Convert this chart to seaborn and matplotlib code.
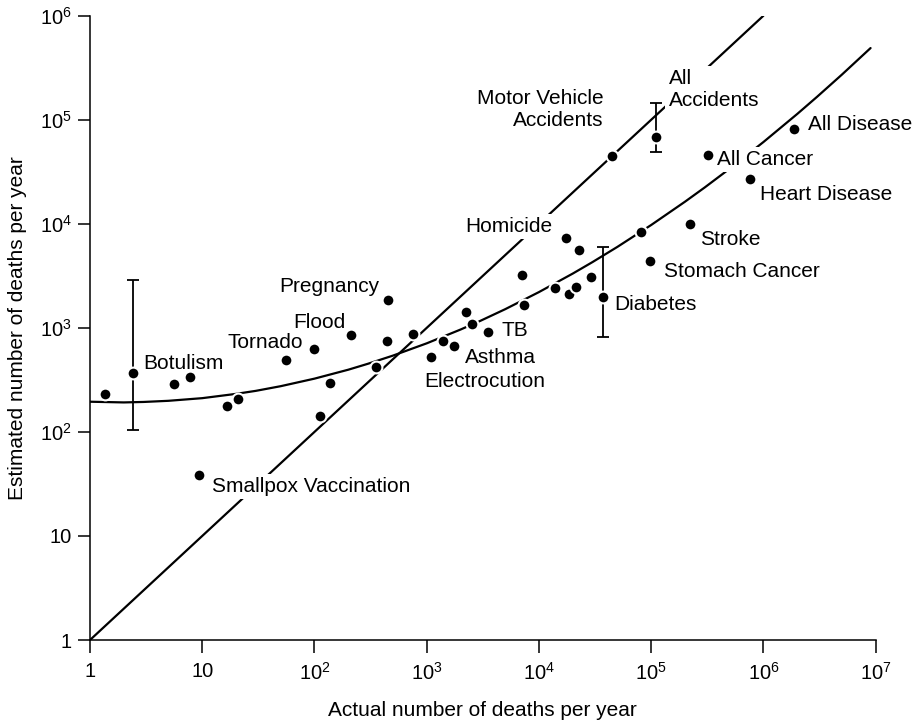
import numpy as np
import pandas as pd
import matplotlib
matplotlib.use('Agg')
import matplotlib.pyplot as plt
import seaborn as sns
from matplotlib.ticker import NullLocator

# actual vs. estimated deaths per year
actual = [1.36, 2.43, 5.6, 7.7, 16.6, 20.7, 55.8, 98.6, 213, 450, 441, 752, 138, 352, 112,
          1088, 1409, 1755, 2232, 2523, 3548, 7430, 7040, 13940, 18590, 21330, 29000,
          17380, 22960, 37330, 80300, 97000, 44650, 109200, 317600, 758000, 222700,
          1875000, 9.36]
estimated = [230, 366, 287, 335, 179, 207, 486, 630, 860, 1853, 753, 873, 293, 423, 142,
             528, 743, 674, 1410, 1089, 912, 1670, 3243, 2400, 2115, 2454, 3060,
             7350, 5640, 1992, 8340, 4342, 44860, 68730, 45850, 26770, 10030,
             80600, 38.5]
names = ['', 'Botulism', '', '', '', '', '', 'Tornado', 'Flood', 'Pregnancy', '', '', '', '', '',
         'Electrocution', '', 'Asthma', '', '', 'TB', '', '', '', '', '', '',
         'Homicide', '', 'Diabetes', '', 'Stomach Cancer', 'Motor Vehicle\nAccidents',
         'All\nAccidents', 'All Cancer', 'Heart Disease', 'Stroke', 'All Disease',
         'Smallpox Vaccination']

# ranges of estimates
err_names = ['Botulism', 'Diabetes', 'All\nAccidents']
err_low = [105, 820, 49300]
err_high = [2900, 6030, 145900]

# fitted curve
curve_x = [1, 2, 3, 5, 10, 20, 30, 50, 100, 200, 300, 500, 1e3, 2e3, 3e3, 5e3,
           1e4, 2e4, 3e4, 5e4, 1e5, 2e5, 3e5, 5e5, 1e6, 2e6, 3e6, 5e6, 9e6]
curve_y = [195, 192, 194, 199, 211, 232, 248, 275, 325, 396, 452, 541, 710, 963, 1167, 1511,
           2207, 3324, 4288, 6003, 9743, 16310, 22370, 33870, 61100, 113700, 166000, 271600, 488600]

# line of perfect estimation
diag = [1, 1e6]

xticks = [1, 10, 1e2, 1e3, 1e4, 1e5, 1e6, 1e7]
xticklabels = ['1', '10', '$10^{2}$', '$10^{3}$', '$10^{4}$', '$10^{5}$', '$10^{6}$', '$10^{7}$']
yticks = [1, 10, 1e2, 1e3, 1e4, 1e5, 1e6]
yticklabels = ['1', '10', '$10^{2}$', '$10^{3}$', '$10^{4}$', '$10^{5}$', '$10^{6}$']

df = pd.DataFrame({'actual': actual, 'estimated': estimated, 'name': names})

# label placement: offset in pixels from the dot, horizontal alignment
label_pos = {
    'Botulism': (10, 4, 'left'),
    'Tornado': (-11, 1, 'right'),
    'Flood': (-6, 7, 'right'),
    'Pregnancy': (-8, 8, 'right'),
    'Smallpox Vaccination': (13, -17, 'left'),
    'Homicide': (-14, 6, 'right'),
    'Motor Vehicle\nAccidents': (-8, 30, 'right'),
    'All\nAccidents': (13, 31, 'left'),
    'All Cancer': (9, -10, 'left'),
    'Heart Disease': (10, -21, 'left'),
    'All Disease': (14, -1, 'left'),
    'Stroke': (10, -21, 'left'),
    'Stomach Cancer': (14, -16, 'left'),
    'Diabetes': (11, -13, 'left'),
    'TB': (13, -4, 'left'),
    'Asthma': (11, -17, 'left'),
    'Electrocution': (-7, -30, 'left'),
}

sns.set_theme(style='ticks')
plt.rcParams['font.family'] = ['Liberation Sans', 'DejaVu Sans']
plt.rcParams['mathtext.default'] = 'regular'

fig = plt.figure(figsize=(9.18, 7.22), dpi=100)
ax = fig.add_axes([90 / 918, 82 / 722, 785.7 / 918, 624.3 / 722])
ax.set_xscale('log')
ax.set_yscale('log')

sns.lineplot(x=diag, y=diag, ax=ax, color='black', lw=1.6, sort=False, estimator=None, zorder=2)
sns.lineplot(x=curve_x, y=curve_y, ax=ax, color='black', lw=1.6, sort=False, estimator=None, zorder=2)

# error bars
err = df.set_index('name').loc[err_names]
ey = err['estimated'].values
ax.errorbar(err['actual'].values, ey,
            yerr=[ey - np.array(err_low), np.array(err_high) - ey],
            fmt='none', ecolor='black', elinewidth=1.3, capsize=4.6, capthick=1.3, zorder=3)

sns.scatterplot(data=df, x='actual', y='estimated', ax=ax, s=72, color='black',
                edgecolor='white', linewidth=1.5, zorder=6, clip_on=False)

for _, r in df[df['name'] != ''].iterrows():
    dx, dy, ha = label_pos[r['name']]
    ax.annotate(r['name'], (r['actual'], r['estimated']), xytext=(dx, dy),
                textcoords='offset pixels', ha=ha, va='baseline', fontsize=15,
                color='black', zorder=5,
                bbox=dict(boxstyle='square,pad=0.15', fc='white', ec='none'))

ax.set_xlim(1, 1e7)
ax.set_ylim(1, 1e6)
ax.set_xticks(xticks)
ax.set_xticklabels(xticklabels)
ax.set_yticks(yticks)
ax.set_yticklabels(yticklabels)
ax.xaxis.set_minor_locator(NullLocator())
ax.yaxis.set_minor_locator(NullLocator())
ax.tick_params(axis='both', length=9, width=1.1, color='black', labelsize=14.5, labelcolor='black')
ax.tick_params(axis='x', pad=7)
ax.tick_params(axis='y', pad=4)
sns.despine(ax=ax)
for s in ['left', 'bottom']:
    ax.spines[s].set_linewidth(1.1)
    ax.spines[s].set_color('black')

ax.set_xlabel('Actual number of deaths per year', fontsize=15, labelpad=12, color='black')
ax.set_ylabel('Estimated number of deaths per year', fontsize=15, labelpad=9, color='black')

fig.savefig('out.png', dpi=100)
